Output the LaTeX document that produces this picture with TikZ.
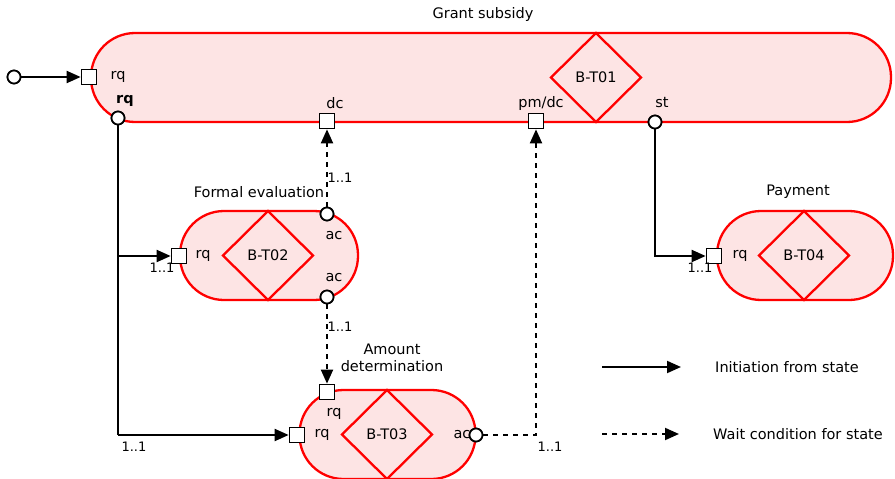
\documentclass[tikz,border=0pt]{standalone}
\usepackage{fontspec}
\setmainfont{DejaVu Sans}
\usetikzlibrary{arrows.meta}
\definecolor{trfill}{HTML}{FDE4E4}
\definecolor{trred}{HTML}{FF0000}
\tikzset{
  x=1pt, y=-1pt,
  every node/.style={font=\fontsize{14.5}{16}\selectfont, inner sep=0pt},
  trbox/.style={draw=trred, fill=trfill, line width=2.3pt, rounded corners=44pt, minimum height=89pt},
  kindline/.style={trred, line width=2.3pt, line join=miter},
  port/.style={draw=black, fill=white, line width=1.7pt, minimum size=15pt},
  state/.style={draw=black, fill=white, line width=1.7pt, circle, minimum size=13pt},
  card/.style={font=\fontsize{13}{14}\selectfont},
  initlink/.style={line width=2pt, -{Triangle[length=14pt, width=12pt]}},
  waitlink/.style={line width=2pt, dash pattern=on 5pt off 5pt, -{Triangle[length=14pt, width=12pt]}},
}
\begin{document}
\begin{tikzpicture}
\path[use as bounding box] (0,0) rectangle (895,479);

% transaction bodies
\node[trbox, minimum width=800pt] (t1) at (491,77.5) {};
\node[trbox, minimum width=178pt] (t2) at (269,255.5) {};
\node[trbox, minimum width=176pt] (t3) at (387.5,434.5) {};
\node[trbox, minimum width=176pt] (t4) at (805,255.5) {};

% transaction kinds
\draw[kindline] (596,33) -- (641,77.5) -- (596,122) -- (551,77.5) -- cycle;
\node (d1) at (596,77.5) {B-T01};
\draw[kindline] (268,211) -- (313,255.5) -- (268,300) -- (223,255.5) -- cycle;
\node (d2) at (268,255.5) {B-T02};
\draw[kindline] (387,390) -- (432,434.5) -- (387,479) -- (342,434.5) -- cycle;
\node (d3) at (387,434.5) {B-T03};
\draw[kindline] (804,211) -- (849,255.5) -- (804,300) -- (759,255.5) -- cycle;
\node (d4) at (804,255.5) {B-T04};

% titles
\node (g1) at (483,14) {Grant subsidy};
\node (g2) at (259,192) {Formal evaluation};
\node[align=center, font=\fontsize{14.5}{17}\selectfont] (g3) at (392,358) {Amount\\determination};
\node (g4) at (798,192) {Payment};

% ports
\node[state] (start) at (14,77) {};
\node[port] (p1rq) at (89,77) {};
\node[state] (s1rq) at (118,118) {};
\node[port] (p1dc) at (327,121) {};
\node[port] (p1pm) at (536,121) {};
\node[state] (s1st) at (655,122) {};
\node[port] (p2rq) at (179,256) {};
\node[state] (s2ac1) at (327,214) {};
\node[state] (s2ac2) at (327,297) {};
\node[port] (p3rqt) at (327,392) {};
\node[port] (p3rq) at (297,435) {};
\node[state] (s3ac) at (476,435) {};
\node[port] (p4rq) at (714,256) {};

% junctions
\coordinate (j1) at (118,256);
\coordinate (j2) at (118,435);
\coordinate (j3) at (655,256);
\coordinate (j4) at (536,435);

% port labels
\node at (118,77) {rq};
\node[font=\fontsize{14.5}{16}\selectfont\bfseries] at (125,101) {rq};
\node at (335,103) {dc};
\node at (541,103) {pm/dc};
\node at (662,103) {st};
\node at (203,256) {rq};
\node at (334,236) {ac};
\node at (334,278) {ac};
\node at (334,414) {rq};
\node at (322,435) {rq};
\node at (462,435) {ac};
\node at (740,256) {rq};

% links
\draw[initlink] (start) -- (p1rq);
\draw[line width=2pt] (s1rq) -- (j2);
\draw[initlink] (j1) -- (p2rq);
\draw[initlink] (j2) -- (p3rq);
\draw[initlink] (s1st) -- (j3) -- (p4rq);
\draw[waitlink] (s2ac1) -- (p1dc);
\draw[waitlink] (s2ac2) -- (p3rqt);
\draw[waitlink] (s3ac) -- (j4) -- (p1pm);

% ports drawn over the links
\foreach \n in {start,s1rq,s1st,s2ac1,s2ac2,s3ac}{\node[state] at (\n) {};}
\foreach \n in {p1rq,p1dc,p1pm,p2rq,p3rqt,p3rq,p4rq}{\node[port] at (\n) {};}

% cardinalities
\node[card] at (340,178) {1..1};
\node[card] at (340,327) {1..1};
\node[card] at (162,268) {1..1};
\node[card] at (134,447) {1..1};
\node[card] at (700,268) {1..1};
\node[card] at (550,447) {1..1};

% legend
\coordinate (l1a) at (602,367);
\coordinate (l1b) at (681,367);
\coordinate (l2a) at (602,434);
\coordinate (l2b) at (679,434);
\draw[initlink] (l1a) -- (l1b);
\draw[waitlink] (l2a) -- (l2b);
\node (lt1) at (787,367) {Initiation from state};
\node (lt2) at (798,434) {Wait condition for state};
\end{tikzpicture}
\end{document}
